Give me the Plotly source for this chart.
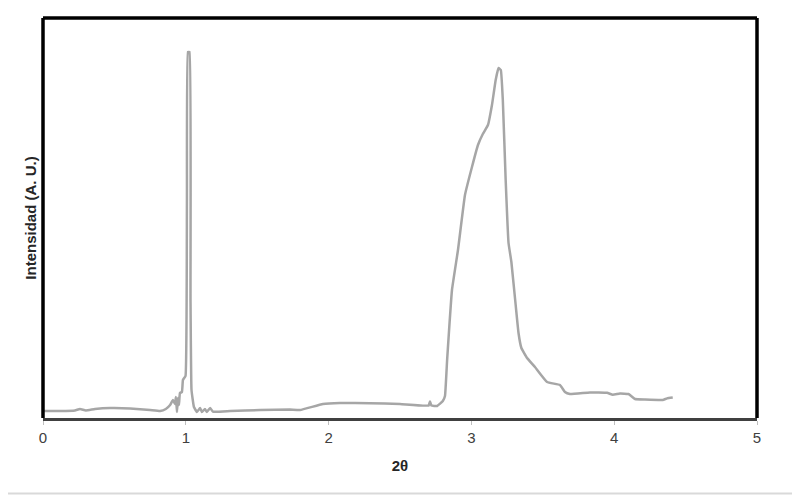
import plotly.graph_objects as go

# 2-theta positions and intensity (arbitrary units, 0-100 scale)
two_theta = [
    0.0, 0.12, 0.224, 0.259, 0.30, 0.364, 0.47, 0.61, 0.75, 0.82,
    0.86, 0.89, 0.91, 0.924, 0.931, 0.938, 0.945, 0.952, 0.959, 0.973,
    0.980, 0.998, 1.008, 1.015, 1.026, 1.033, 1.040, 1.057, 1.078, 1.10,
    1.113, 1.134, 1.148, 1.17, 1.19, 1.31, 1.52, 1.73, 1.80, 1.96,
    2.08, 2.29, 2.5, 2.70, 2.71, 2.72, 2.76, 2.80, 2.815, 2.83,
    2.864, 2.906, 2.955, 3.004, 3.046, 3.08, 3.116, 3.144, 3.17, 3.19,
    3.206, 3.22, 3.24, 3.26, 3.28, 3.31, 3.33, 3.35, 3.39, 3.445,
    3.53, 3.62, 3.655, 3.69, 3.83, 3.95, 3.99, 4.04, 4.10, 4.146,
    4.216, 4.34, 4.37, 4.41,
]
intensity = [
    1.75, 1.75, 1.9, 2.25, 1.9, 2.25, 2.5, 2.4, 2.0, 1.75,
    2.25, 3.25, 4.5, 3.5, 5.25, 1.5, 5.0, 3.25, 6.25, 6.5,
    9.5, 10.5, 54.5, 91.5, 91.5, 29.5, 7.0, 2.75, 1.5, 2.5,
    1.5, 2.25, 1.5, 2.5, 1.6, 1.75, 2.0, 2.1, 2.0, 3.5,
    3.75, 3.7, 3.5, 3.1, 4.1, 3.1, 3.0, 4.25, 5.5, 14.5,
    32.0, 42.0, 55.75, 62.75, 68.25, 71.0, 73.25, 78.25, 84.5, 87.5,
    87.0, 79.5, 59.5, 43.75, 39.0, 28.25, 21.25, 17.5, 15.0, 12.75,
    9.0, 8.25, 6.5, 6.0, 6.4, 6.3, 5.8, 6.1, 6.0, 4.75,
    4.6, 4.5, 4.9, 5.1,
]

x_ticks = [0, 1, 2, 3, 4, 5]

fig = go.Figure()
fig.add_trace(go.Scatter(
    x=two_theta,
    y=intensity,
    mode="lines",
    line=dict(color="#a6a6a6", width=2.5, shape="spline", smoothing=0.3),
    showlegend=False,
    hoverinfo="skip",
))

# the page body has an 8px margin, so the figure is 8px smaller each way
fig.update_layout(
    width=792,
    height=487,
    margin=dict(l=35, r=43, t=10, b=77),
    paper_bgcolor="white",
    plot_bgcolor="white",
    font=dict(family="Liberation Sans, Arial, sans-serif", color="#404040"),
)

fig.update_xaxes(
    range=[0, 5],
    tickvals=x_ticks,
    ticktext=[str(t) for t in x_ticks],
    tickfont=dict(size=15, color="#404040"),
    showgrid=False,
    zeroline=False,
    showline=True,
    linecolor="#404040",
    linewidth=3,
    ticks="outside",
    ticklen=4,
    tickcolor="#bfbfbf",
    title=dict(text="<b>2θ</b>", font=dict(size=15, color="#262626"), standoff=16),
)
fig.update_yaxes(
    range=[0, 100],
    showticklabels=False,
    showgrid=False,
    zeroline=False,
    showline=False,
    title=dict(text="<b>Intensidad (A. U.)</b>", font=dict(size=15, color="#262626"), standoff=1),
)

# black frame on left, top and right
for x0, y0, x1, y1 in [(0, 0, 0, 1), (0, 1, 1, 1), (1, 0, 1, 1)]:
    fig.add_shape(type="line", xref="paper", yref="paper",
                  x0=x0, y0=y0, x1=x1, y1=y1,
                  line=dict(color="black", width=3.5), layer="above")

# light outer border (right and bottom edges of the image)
fig.add_shape(type="line", xref="paper", yref="paper",
              x0=755 / 714, y0=-76 / 400, x1=755 / 714, y1=1.05,
              line=dict(color="#d9d9d9", width=2), layer="below")
fig.add_shape(type="line", xref="paper", yref="paper",
              x0=-0.05, y0=-75.5 / 400, x1=756 / 714, y1=-75.5 / 400,
              line=dict(color="#d9d9d9", width=2), layer="below")

fig.write_html("out.html")
